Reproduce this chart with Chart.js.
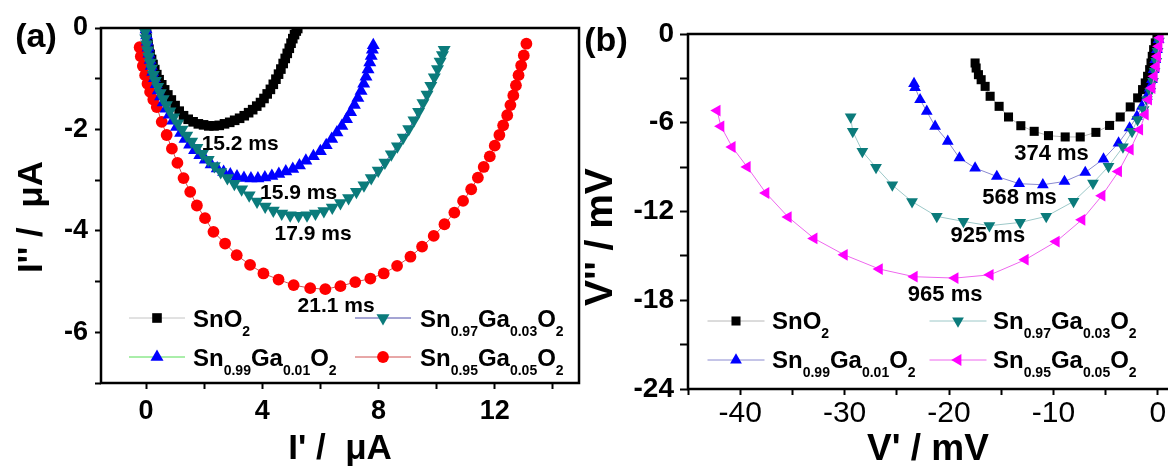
<!DOCTYPE html>
<html>
<head>
<meta charset="utf-8">
<script src="https://cdn.jsdelivr.net/npm/chart.js@4.4.1/dist/chart.umd.min.js"></script>
<style>
    html, body { margin: 0; padding: 0; background: #fff; overflow: hidden; width: 1168px; height: 468px; }
    #chartA { position: absolute; left: 0; top: 0; }
    #chartB { position: absolute; left: 580px; top: 0; }
</style>
</head>
<body>
<canvas id="chartA" width="590" height="468"></canvas>
<canvas id="chartB" width="640" height="468"></canvas>
<script>
// nomes das amostras (numeros viram subscrito na legenda)
var seriesNames = ['SnO2', 'Sn0.99Ga0.01O2', 'Sn0.97Ga0.03O2', 'Sn0.95Ga0.05O2'];
var tempoA = ['15.2 ms', '15.9 ms', '17.9 ms', '21.1 ms'];
var tempoB = ['374 ms', '568 ms', '925 ms', '965 ms'];

var xLabelsA = [0, 4, 8, 12];
var yLabelsA = [0, -2, -4, -6];
var xLabelsB = [-40, -30, -20, -10, 0];
var yLabelsB = [0, -6, -12, -18, -24];

// (a) I' x I''  (uA)
var aSnO2 = [[0.00,-0.03],[0.02,-0.12],[0.04,-0.22],[0.07,-0.32],[0.10,-0.42],[0.14,-0.52],[0.19,-0.62],[0.24,-0.72],
    [0.30,-0.82],[0.37,-0.92],[0.45,-1.02],[0.54,-1.12],[0.64,-1.22],[0.75,-1.32],[0.87,-1.42],[1.00,-1.53],[1.14,-1.64],
    [1.29,-1.73],[1.45,-1.80],[1.62,-1.85],[1.80,-1.89],[1.98,-1.91],[2.16,-1.93],[2.34,-1.93],[2.52,-1.92],[2.70,-1.89],
    [2.88,-1.86],[3.05,-1.82],[3.22,-1.78],[3.38,-1.73],[3.53,-1.67],[3.67,-1.61],[3.81,-1.54],[3.94,-1.47],[4.06,-1.39],
    [4.17,-1.30],[4.28,-1.21],[4.38,-1.11],[4.47,-1.01],[4.56,-0.91],[4.64,-0.81],[4.72,-0.70],[4.79,-0.60],[4.86,-0.50],
    [4.93,-0.40],[4.99,-0.30],[5.05,-0.21],[5.11,-0.13],[5.17,-0.06],[5.22,-0.01]];
var aSn099 = [[0.00,-0.03],[0.02,-0.15],[0.04,-0.27],[0.07,-0.39],[0.10,-0.51],[0.14,-0.63],[0.18,-0.75],[0.23,-0.87],
    [0.29,-0.99],[0.35,-1.11],[0.42,-1.23],[0.50,-1.35],[0.59,-1.47],[0.69,-1.59],[0.80,-1.71],[0.92,-1.83],[1.05,-1.95],
    [1.19,-2.07],[1.34,-2.19],[1.50,-2.30],[1.67,-2.41],[1.85,-2.51],[2.04,-2.60],[2.24,-2.69],[2.45,-2.77],[2.67,-2.84],
    [2.90,-2.89],[3.13,-2.93],[3.37,-2.96],[3.61,-2.97],[3.85,-2.97],[4.09,-2.95],[4.33,-2.92],[4.57,-2.88],[4.81,-2.83],
    [5.05,-2.78],[5.28,-2.71],[5.50,-2.62],[5.76,-2.53],[6.00,-2.43],[6.20,-2.31],[6.39,-2.19],[6.57,-2.06],[6.74,-1.93],
    [6.90,-1.80],[7.04,-1.66],[7.17,-1.52],[7.29,-1.38],[7.40,-1.24],[7.49,-1.10],[7.57,-0.96],[7.64,-0.82],[7.70,-0.68],
    [7.75,-0.55],[7.79,-0.43],[7.82,-0.34]];
var aSn097 = [[-0.03,-0.08],[-0.01,-0.20],[0.02,-0.32],[0.05,-0.44],[0.09,-0.56],[0.14,-0.68],[0.19,-0.80],[0.25,-0.92],
    [0.32,-1.04],[0.40,-1.16],[0.49,-1.28],[0.59,-1.40],[0.70,-1.52],[0.82,-1.64],[0.95,-1.76],[1.09,-1.88],[1.24,-2.00],
    [1.40,-2.12],[1.57,-2.24],[1.75,-2.36],[1.94,-2.48],[2.14,-2.60],[2.35,-2.72],[2.57,-2.84],[2.80,-2.96],[3.04,-3.07],
    [3.29,-3.18],[3.55,-3.30],[3.82,-3.42],[4.10,-3.52],[4.38,-3.60],[4.67,-3.66],[4.96,-3.69],[5.25,-3.70],[5.54,-3.69],
    [5.83,-3.66],[6.12,-3.61],[6.41,-3.54],[6.69,-3.45],[6.97,-3.35],[7.24,-3.23],[7.50,-3.10],[7.75,-2.96],[7.99,-2.81],
    [8.22,-2.65],[8.44,-2.49],[8.65,-2.33],[8.85,-2.16],[9.04,-1.99],[9.22,-1.82],[9.38,-1.65],[9.53,-1.48],[9.67,-1.31],
    [9.80,-1.14],[9.92,-0.97],[10.03,-0.81],[10.12,-0.66],[10.20,-0.53],[10.26,-0.43]];
var aSn095 = [[-0.22,-0.38],[-0.18,-0.56],[-0.11,-0.75],[-0.03,-0.93],[0.05,-1.10],[0.14,-1.26],[0.25,-1.41],[0.37,-1.56],
    [0.54,-1.85],[0.71,-2.11],[0.89,-2.38],[1.08,-2.66],[1.29,-2.96],[1.52,-3.23],[1.75,-3.50],[2.03,-3.75],[2.32,-4.02],
    [2.72,-4.25],[3.12,-4.48],[3.58,-4.67],[4.04,-4.84],[4.56,-4.96],[5.08,-5.07],[5.65,-5.13],[6.17,-5.15],[6.69,-5.09],
    [7.20,-5.01],[7.72,-4.94],[8.18,-4.84],[8.64,-4.69],[9.10,-4.51],[9.50,-4.31],[9.90,-4.10],[10.27,-3.87],[10.61,-3.64],
    [10.91,-3.41],[11.19,-3.18],[11.42,-2.95],[11.62,-2.74],[11.83,-2.53],[12.00,-2.32],[12.16,-2.11],[12.29,-1.92],
    [12.43,-1.72],[12.54,-1.52],[12.64,-1.33],[12.73,-1.13],[12.82,-0.93],[12.91,-0.74],[13.00,-0.54],[13.09,-0.31]];

// (b) V' x V''  (mV)
var bSnO2 = [[-17.50,-1.96],[-17.40,-2.30],[-17.18,-2.75],[-16.92,-3.09],[-16.54,-3.54],[-16.06,-4.21],[-15.20,-4.89],
    [-14.30,-5.61],[-13.12,-6.20],[-11.84,-6.58],[-10.47,-6.87],[-8.87,-6.96],[-7.43,-6.96],[-5.93,-6.65],[-4.62,-6.18],
    [-3.60,-5.61],[-2.64,-4.93],[-1.93,-4.32],[-1.46,-3.76],[-1.20,-3.31],[-0.98,-2.86],[-0.78,-2.41],[-0.65,-1.96],
    [-0.53,-1.51],[-0.40,-1.06],[-0.24,-0.60],[-0.08,-0.16]];
var bSn099 = [[-23.35,-3.35],[-23.25,-3.62],[-22.77,-4.44],[-22.13,-5.23],[-21.33,-6.24],[-20.12,-7.26],[-19.00,-8.38],
    [-17.50,-9.06],[-15.42,-9.63],[-13.28,-10.12],[-11.01,-10.19],[-8.94,-9.97],[-6.95,-9.36],[-5.20,-8.45],[-3.76,-7.37],
    [-2.70,-6.35],[-2.00,-5.57],[-1.52,-4.89],[-1.04,-4.22],[-0.78,-3.65],[-0.56,-3.09],[-0.40,-2.41],[-0.24,-1.73],
    [-0.08,-1.06],[0.08,-0.38]];
var bSn097 = [[-29.42,-5.61],[-29.22,-6.58],[-28.30,-7.94],[-26.99,-9.02],[-25.43,-10.21],[-23.54,-11.33],[-21.17,-12.33],
    [-18.62,-12.67],[-16.13,-12.96],[-13.18,-12.74],[-10.69,-12.33],[-8.07,-11.32],[-6.21,-10.08],[-4.72,-8.95],[-3.34,-7.64],
    [-2.47,-6.58],[-1.94,-5.79],[-1.36,-5.11],[-1.04,-4.44],[-0.72,-3.88],[-0.46,-3.20],[-0.31,-2.52],[-0.14,-1.85],
    [-0.02,-1.17],[0.11,-0.49]];
var bSn095 = [[-42.21,-5.18],[-41.85,-6.24],[-40.77,-7.64],[-39.33,-8.99],[-37.54,-10.75],[-35.40,-12.38],[-32.93,-13.82],
    [-30.03,-14.93],[-26.67,-15.89],[-23.33,-16.41],[-19.42,-16.50],[-16.06,-16.28],[-12.70,-15.26],[-9.73,-14.03],
    [-7.27,-12.56],[-5.35,-10.93],[-3.76,-9.29],[-2.64,-7.82],[-1.74,-6.47],[-1.20,-5.45],[-0.88,-4.44],[-0.56,-3.65],
    [-0.34,-2.86],[-0.14,-2.19],[-0.02,-1.51],[0.11,-0.83],[0.24,-0.26]];

var fonte = "'Liberation Sans', Arial, sans-serif";
Chart.defaults.font.family = fonte;
Chart.defaults.color = '#000';

function partesNome(nome) {
    return nome.split(/(\d+(?:\.\d+)?)/).filter(function (s) { return s !== ''; })
        .map(function (s) { return { text: s, sub: /^\d/.test(s) }; });
}

function marcador(ctx, ds, x, y) {
    ctx.fillStyle = ds.pointBackgroundColor;
    var opts = { pointStyle: ds.pointStyle, rotation: ds.pointRotation || 0, radius: ds.pointRadius, borderWidth: 0 };
    if (Chart.helpers && Chart.helpers.drawPoint) {
        Chart.helpers.drawPoint(ctx, opts, x, y);
    } else {
        ctx.beginPath();
        ctx.arc(x, y, ds.pointRadius, 0, Math.PI * 2);
        ctx.fill();
    }
}

var decor = {
    id: 'decor',
    afterDatasetsDraw: function (chart, args, o) {
        var ctx = chart.ctx;
        var a = chart.chartArea;
        ctx.save();
        ctx.strokeStyle = '#000';
        ctx.lineWidth = o.frame;
        ctx.strokeRect(a.left, a.top, a.right - a.left, a.bottom - a.top);

        // tempos de relaxacao
        ctx.fillStyle = '#000';
        ctx.font = o.noteFont;
        ctx.textAlign = 'center';
        ctx.textBaseline = 'middle';
        o.notes.forEach(function (n) {
            ctx.fillText(n.text, chart.scales.x.getPixelForValue(n.x), chart.scales.y.getPixelForValue(n.y));
        });

        // legenda
        o.legend.forEach(function (it) {
            var ds = chart.data.datasets[it.i];
            ctx.strokeStyle = ds.borderColor;
            ctx.lineWidth = 1;
            ctx.beginPath();
            ctx.moveTo(it.x - o.half, it.y);
            ctx.lineTo(it.x + o.half, it.y);
            ctx.stroke();
            marcador(ctx, ds, it.x, it.y);
            var cx = it.tx;
            ctx.fillStyle = '#000';
            ctx.textAlign = 'left';
            ctx.textBaseline = 'alphabetic';
            partesNome(ds.label).forEach(function (p) {
                ctx.font = p.sub ? o.subFont : o.legendFont;
                var yy = it.y + o.textDy + (p.sub ? o.subDy : 0);
                ctx.fillText(p.text, cx, yy);
                cx += ctx.measureText(p.text).width;
            });
        });

        // titulos
        o.titles.forEach(function (t) {
            ctx.save();
            ctx.font = t.font;
            ctx.fillStyle = '#000';
            ctx.textAlign = 'center';
            ctx.textBaseline = 'middle';
            ctx.translate(t.x, t.y);
            if (t.rot) ctx.rotate(-Math.PI / 2);
            ctx.fillText(t.text, 0, 0);
            ctx.restore();
        });
        ctx.restore();
    }
};

function rotulos(lista) {
    return function (v) { return lista.indexOf(v) >= 0 ? String(v) : ''; };
}

function serie(nome, dados, estilo, rot, raio, cor, corLinha, ordem) {
    return {
        label: nome,
        data: dados,
        showLine: true,
        borderColor: corLinha,
        borderWidth: 1,
        tension: 0,
        pointStyle: estilo,
        pointRotation: rot,
        pointRadius: raio,
        pointBackgroundColor: cor,
        pointBorderColor: cor,
        pointBorderWidth: 0,
        order: ordem
    };
}

function eixos(minX, maxX, passoX, labX, fonteX, tickX, padX, altX, minY, maxY, passoY, labY, fonteY, tickY, padY, largY) {
    return {
        x: {
            type: 'linear', min: minX, max: maxX,
            grid: { drawOnChartArea: false, drawTicks: true, tickLength: tickX, tickWidth: 2, tickColor: '#000' },
            border: { display: false },
            ticks: { stepSize: passoX, includeBounds: false, autoSkip: false, maxRotation: 0, minRotation: 0,
                padding: padX, font: fonteX, color: '#000', callback: rotulos(labX) },
            afterFit: function (s) { s.height = altX; }
        },
        y: {
            type: 'linear', min: minY, max: maxY,
            grid: { drawOnChartArea: false, drawTicks: true, tickLength: tickY, tickWidth: 2, tickColor: '#000' },
            border: { display: false },
            ticks: { stepSize: passoY, includeBounds: false, autoSkip: false,
                padding: padY, font: fonteY, color: '#000', callback: rotulos(labY) },
            afterFit: function (s) { s.width = largY; }
        }
    };
}

var chartA = new Chart(document.getElementById('chartA'), {
    type: 'scatter',
    data: {
        datasets: [
            serie(seriesNames[0], aSnO2, 'rect', 0, 6.8, '#000000', '#c4c4c4', 3),
            serie(seriesNames[1], aSn099, 'triangle', 0, 7.5, '#0000ff', '#55dd55', 1),
            serie(seriesNames[2], aSn097, 'triangle', 180, 7.5, '#0b7b7b', '#4a4aa8', 0),
            serie(seriesNames[3], aSn095, 'circle', 0, 5.9, '#ff0000', '#d05050', 2)
        ]
    },
    options: {
        responsive: false,
        animation: false,
        events: [],
        layout: { padding: { top: 28, right: 11, left: 0, bottom: 0 } },
        scales: eixos(-1.55, 14.9, 2, xLabelsA, { size: 27, weight: 'bold' }, 6, 6, 85,
            -7, 0, 1, yLabelsA, { size: 27, weight: 'bold' }, 6, 7, 101),
        plugins: {
            legend: { display: false },
            tooltip: { enabled: false },
            decor: {
                frame: 2.5,
                noteFont: 'bold 21px ' + fonte,
                notes: [
                    { text: tempoA[0], x: 3.24, y: -2.30 },
                    { text: tempoA[1], x: 5.25, y: -3.25 },
                    { text: tempoA[2], x: 5.75, y: -4.07 },
                    { text: tempoA[3], x: 6.54, y: -5.48 }
                ],
                half: 28, textDy: 9, subDy: 9,
                legendFont: 'bold 24px ' + fonte,
                subFont: 'bold 14px ' + fonte,
                legend: [
                    { i: 0, x: 157, y: 318, tx: 193 },
                    { i: 2, x: 383, y: 318, tx: 420 },
                    { i: 1, x: 157, y: 357, tx: 193 },
                    { i: 3, x: 383, y: 357, tx: 420 }
                ],
                titles: [
                    { text: '(a)', x: 36, y: 38, font: 'bold 34px ' + fonte },
                    { text: "I'' /  \u03bcA", x: 32, y: 217, rot: true, font: 'bold 35px ' + fonte },
                    { text: "I' /  \u03bcA", x: 340, y: 449, font: 'bold 35px ' + fonte }
                ]
            }
        }
    },
    plugins: [decor]
});

var chartB = new Chart(document.getElementById('chartB'), {
    type: 'scatter',
    data: {
        datasets: [
            serie(seriesNames[0], bSnO2, 'rect', 0, 6.4, '#000000', '#b8b8b8', 3),
            serie(seriesNames[1], bSn099, 'triangle', 0, 6.8, '#0000ff', '#8a8ad0', 2),
            serie(seriesNames[2], bSn097, 'triangle', 180, 6.8, '#0b7b7b', '#9cc8c8', 1),
            serie(seriesNames[3], bSn095, 'triangle', 270, 6.8, '#ff00ff', '#ee66ee', 0)
        ]
    },
    options: {
        responsive: false,
        animation: false,
        events: [],
        layout: { padding: { top: 34, right: 10, left: 0, bottom: 0 } },
        scales: eixos(-45, 5, 5, xLabelsB, { size: 30, weight: 'normal' }, 6, 1, 79,
            -24, 0, 3, yLabelsB, { size: 28, weight: 'bold' }, 8, 6, 108),
        plugins: {
            legend: { display: false },
            tooltip: { enabled: false },
            decor: {
                frame: 2.5,
                noteFont: 'bold 22px ' + fonte,
                notes: [
                    { text: tempoB[0], x: -10.18, y: -8.13 },
                    { text: tempoB[1], x: -13.25, y: -11.08 },
                    { text: tempoB[2], x: -16.28, y: -13.68 },
                    { text: tempoB[3], x: -20.37, y: -17.62 }
                ],
                half: 28.5, textDy: 7.5, subDy: 9,
                legendFont: 'bold 24px ' + fonte,
                subFont: 'bold 14px ' + fonte,
                legend: [
                    { i: 0, x: 156, y: 321, tx: 192 },
                    { i: 2, x: 378, y: 321, tx: 413 },
                    { i: 1, x: 156, y: 360, tx: 192 },
                    { i: 3, x: 378, y: 360, tx: 413 }
                ],
                titles: [
                    { text: '(b)', x: 26, y: 42, font: 'bold 34px ' + fonte },
                    { text: "V'' / mV", x: 21, y: 237, rot: true, font: 'bold 39px ' + fonte },
                    { text: "V' / mV", x: 348, y: 450, font: 'bold 37px ' + fonte }
                ]
            }
        }
    },
    plugins: [decor]
});
</script>
</body>
</html>
